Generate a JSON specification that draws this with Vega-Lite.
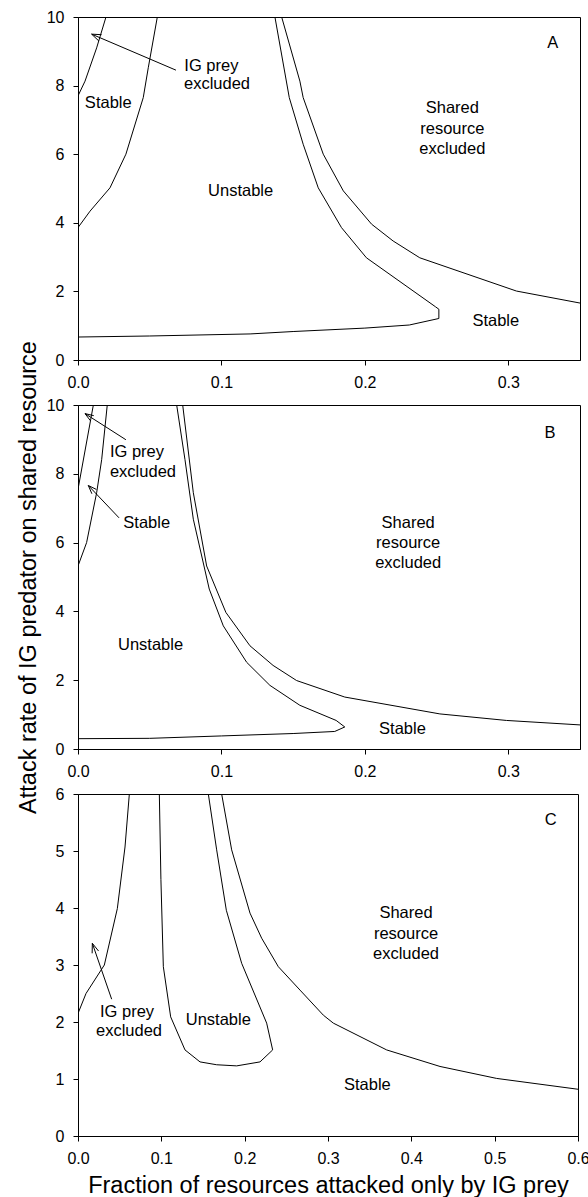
{
  "$schema": "https://vega.github.io/schema/vega-lite/v6.json",
  "padding": {"left": 15, "top": 8, "right": 6, "bottom": 2},
  "background": "white",
  "config": {
    "font": "Liberation Sans",
    "view": {"stroke": "black", "strokeWidth": 1},
    "axis": {
      "domainColor": "black", "tickColor": "black", "labelColor": "black", "titleColor": "black",
      "labelFont": "Liberation Sans", "titleFont": "Liberation Sans", "labelFontSize": 16,
      "titleFontSize": 23.5, "titleFontWeight": "normal", "grid": false, "tickSize": 5,
      "labelPadding": 9, "labelFlush": false, "labelOverlap": false, "domainWidth": 1, "tickWidth": 1
    }
  },
  "datasets": {
    "curves": [
      {"panel": "A", "curve": "A1", "i": 0, "x": 0, "y": 7.7},
      {"panel": "A", "curve": "A1", "i": 1, "x": 0.0049, "y": 8.13},
      {"panel": "A", "curve": "A1", "i": 2, "x": 0.013, "y": 9.1},
      {"panel": "A", "curve": "A1", "i": 3, "x": 0.0195, "y": 10},
      {"panel": "A", "curve": "A2", "i": 0, "x": 0, "y": 3.86},
      {"panel": "A", "curve": "A2", "i": 1, "x": 0.0084, "y": 4.34},
      {"panel": "A", "curve": "A2", "i": 2, "x": 0.0223, "y": 5.02},
      {"panel": "A", "curve": "A2", "i": 3, "x": 0.0334, "y": 6.0},
      {"panel": "A", "curve": "A2", "i": 4, "x": 0.0455, "y": 7.65},
      {"panel": "A", "curve": "A2", "i": 5, "x": 0.049, "y": 8.52},
      {"panel": "A", "curve": "A2", "i": 6, "x": 0.0553, "y": 10},
      {"panel": "A", "curve": "A3", "i": 0, "x": 0.1373, "y": 10},
      {"panel": "A", "curve": "A3", "i": 1, "x": 0.1473, "y": 7.65},
      {"panel": "A", "curve": "A3", "i": 2, "x": 0.157, "y": 6.29},
      {"panel": "A", "curve": "A3", "i": 3, "x": 0.1675, "y": 5.02},
      {"panel": "A", "curve": "A3", "i": 4, "x": 0.1837, "y": 3.86},
      {"panel": "A", "curve": "A3", "i": 5, "x": 0.2011, "y": 2.98},
      {"panel": "A", "curve": "A3", "i": 6, "x": 0.2493, "y": 1.55},
      {"panel": "A", "curve": "A3", "i": 7, "x": 0.2516, "y": 1.48},
      {"panel": "A", "curve": "A3", "i": 8, "x": 0.2516, "y": 1.21},
      {"panel": "A", "curve": "A3", "i": 9, "x": 0.231, "y": 1.02},
      {"panel": "A", "curve": "A3", "i": 10, "x": 0.2, "y": 0.93},
      {"panel": "A", "curve": "A3", "i": 11, "x": 0.15, "y": 0.83},
      {"panel": "A", "curve": "A3", "i": 12, "x": 0.12, "y": 0.76},
      {"panel": "A", "curve": "A3", "i": 13, "x": 0.05, "y": 0.7},
      {"panel": "A", "curve": "A3", "i": 14, "x": 0, "y": 0.67},
      {"panel": "A", "curve": "A4", "i": 0, "x": 0.142, "y": 10},
      {"panel": "A", "curve": "A4", "i": 1, "x": 0.1547, "y": 8.13},
      {"panel": "A", "curve": "A4", "i": 2, "x": 0.157, "y": 7.65},
      {"panel": "A", "curve": "A4", "i": 3, "x": 0.171, "y": 6.0},
      {"panel": "A", "curve": "A4", "i": 4, "x": 0.185, "y": 4.93},
      {"panel": "A", "curve": "A4", "i": 5, "x": 0.2047, "y": 3.96},
      {"panel": "A", "curve": "A4", "i": 6, "x": 0.2197, "y": 3.47},
      {"panel": "A", "curve": "A4", "i": 7, "x": 0.2383, "y": 2.98},
      {"panel": "A", "curve": "A4", "i": 8, "x": 0.3057, "y": 2.01},
      {"panel": "A", "curve": "A4", "i": 9, "x": 0.35, "y": 1.66},
      {"panel": "A", "curve": "Aarrow", "i": 0, "x": 0.0683, "y": 8.45},
      {"panel": "A", "curve": "Aarrow", "i": 1, "x": 0.0095, "y": 9.5},
      {"panel": "A", "curve": "Ahead", "i": 0, "x": 0.01456, "y": 9.3},
      {"panel": "A", "curve": "Ahead", "i": 1, "x": 0.0095, "y": 9.5},
      {"panel": "A", "curve": "Ahead", "i": 2, "x": 0.01645, "y": 9.484},

      {"panel": "B", "curve": "B1", "i": 0, "x": 0, "y": 7.55},
      {"panel": "B", "curve": "B1", "i": 1, "x": 0.0107, "y": 10},
      {"panel": "B", "curve": "B2", "i": 0, "x": 0, "y": 5.32},
      {"panel": "B", "curve": "B2", "i": 1, "x": 0.006, "y": 6.0},
      {"panel": "B", "curve": "B2", "i": 2, "x": 0.013, "y": 7.45},
      {"panel": "B", "curve": "B2", "i": 3, "x": 0.0165, "y": 8.41},
      {"panel": "B", "curve": "B2", "i": 4, "x": 0.0204, "y": 10},
      {"panel": "B", "curve": "B3", "i": 0, "x": 0.0688, "y": 10},
      {"panel": "B", "curve": "B3", "i": 1, "x": 0.0746, "y": 8.41},
      {"panel": "B", "curve": "B3", "i": 2, "x": 0.0804, "y": 6.68},
      {"panel": "B", "curve": "B3", "i": 3, "x": 0.0915, "y": 4.65},
      {"panel": "B", "curve": "B3", "i": 4, "x": 0.1013, "y": 3.58},
      {"panel": "B", "curve": "B3", "i": 5, "x": 0.1176, "y": 2.52},
      {"panel": "B", "curve": "B3", "i": 6, "x": 0.1338, "y": 1.85},
      {"panel": "B", "curve": "B3", "i": 7, "x": 0.1547, "y": 1.27},
      {"panel": "B", "curve": "B3", "i": 8, "x": 0.18, "y": 0.83},
      {"panel": "B", "curve": "B3", "i": 9, "x": 0.186, "y": 0.64},
      {"panel": "B", "curve": "B3", "i": 10, "x": 0.179, "y": 0.51},
      {"panel": "B", "curve": "B3", "i": 11, "x": 0.15, "y": 0.45},
      {"panel": "B", "curve": "B3", "i": 12, "x": 0.1, "y": 0.38},
      {"panel": "B", "curve": "B3", "i": 13, "x": 0.05, "y": 0.31},
      {"panel": "B", "curve": "B3", "i": 14, "x": 0, "y": 0.3},
      {"panel": "B", "curve": "B4", "i": 0, "x": 0.073, "y": 10},
      {"panel": "B", "curve": "B4", "i": 1, "x": 0.0804, "y": 7.45},
      {"panel": "B", "curve": "B4", "i": 2, "x": 0.0897, "y": 5.32},
      {"panel": "B", "curve": "B4", "i": 3, "x": 0.1031, "y": 3.97},
      {"panel": "B", "curve": "B4", "i": 4, "x": 0.1199, "y": 3.0},
      {"panel": "B", "curve": "B4", "i": 5, "x": 0.136, "y": 2.43},
      {"panel": "B", "curve": "B4", "i": 6, "x": 0.1524, "y": 1.99},
      {"panel": "B", "curve": "B4", "i": 7, "x": 0.186, "y": 1.51},
      {"panel": "B", "curve": "B4", "i": 8, "x": 0.2523, "y": 1.02},
      {"panel": "B", "curve": "B4", "i": 9, "x": 0.2987, "y": 0.83},
      {"panel": "B", "curve": "B4", "i": 10, "x": 0.35, "y": 0.7},
      {"panel": "B", "curve": "Barrow1", "i": 0, "x": 0.0334, "y": 8.99},
      {"panel": "B", "curve": "Barrow1", "i": 1, "x": 0.0049, "y": 9.75},
      {"panel": "B", "curve": "Bhead1", "i": 0, "x": 0.00871, "y": 9.54},
      {"panel": "B", "curve": "Bhead1", "i": 1, "x": 0.0049, "y": 9.75},
      {"panel": "B", "curve": "Bhead1", "i": 2, "x": 0.011, "y": 9.69},
      {"panel": "B", "curve": "Barrow2", "i": 0, "x": 0.0286, "y": 6.72},
      {"panel": "B", "curve": "Barrow2", "i": 1, "x": 0.0072, "y": 7.66},
      {"panel": "B", "curve": "Bhead2", "i": 0, "x": 0.00969, "y": 7.42},
      {"panel": "B", "curve": "Bhead2", "i": 1, "x": 0.0072, "y": 7.66},
      {"panel": "B", "curve": "Bhead2", "i": 2, "x": 0.01282, "y": 7.545},

      {"panel": "C", "curve": "C1", "i": 0, "x": 0, "y": 2.15},
      {"panel": "C", "curve": "C1", "i": 1, "x": 0.0096, "y": 2.5},
      {"panel": "C", "curve": "C1", "i": 2, "x": 0.0316, "y": 3.0},
      {"panel": "C", "curve": "C1", "i": 3, "x": 0.0472, "y": 3.99},
      {"panel": "C", "curve": "C1", "i": 4, "x": 0.0564, "y": 5.07},
      {"panel": "C", "curve": "C1", "i": 5, "x": 0.0616, "y": 6.0},
      {"panel": "C", "curve": "C2", "i": 0, "x": 0.0976, "y": 6.0},
      {"panel": "C", "curve": "C2", "i": 1, "x": 0.0995, "y": 4.5},
      {"panel": "C", "curve": "C2", "i": 2, "x": 0.1024, "y": 2.97},
      {"panel": "C", "curve": "C2", "i": 3, "x": 0.1112, "y": 2.09},
      {"panel": "C", "curve": "C2", "i": 4, "x": 0.1284, "y": 1.51},
      {"panel": "C", "curve": "C2", "i": 5, "x": 0.1464, "y": 1.3},
      {"panel": "C", "curve": "C2", "i": 6, "x": 0.1664, "y": 1.25},
      {"panel": "C", "curve": "C2", "i": 7, "x": 0.1904, "y": 1.23},
      {"panel": "C", "curve": "C2", "i": 8, "x": 0.2184, "y": 1.3},
      {"panel": "C", "curve": "C2", "i": 9, "x": 0.2336, "y": 1.51},
      {"panel": "C", "curve": "C2", "i": 10, "x": 0.2264, "y": 1.98},
      {"panel": "C", "curve": "C2", "i": 11, "x": 0.1964, "y": 3.03},
      {"panel": "C", "curve": "C2", "i": 12, "x": 0.178, "y": 3.96},
      {"panel": "C", "curve": "C2", "i": 13, "x": 0.1664, "y": 5.02},
      {"panel": "C", "curve": "C2", "i": 14, "x": 0.1564, "y": 6.0},
      {"panel": "C", "curve": "C3", "i": 0, "x": 0.1724, "y": 6.0},
      {"panel": "C", "curve": "C3", "i": 1, "x": 0.1844, "y": 5.02},
      {"panel": "C", "curve": "C3", "i": 2, "x": 0.2064, "y": 3.91},
      {"panel": "C", "curve": "C3", "i": 3, "x": 0.2204, "y": 3.47},
      {"panel": "C", "curve": "C3", "i": 4, "x": 0.2404, "y": 2.97},
      {"panel": "C", "curve": "C3", "i": 5, "x": 0.2664, "y": 2.56},
      {"panel": "C", "curve": "C3", "i": 6, "x": 0.2944, "y": 2.12},
      {"panel": "C", "curve": "C3", "i": 7, "x": 0.3064, "y": 1.98},
      {"panel": "C", "curve": "C3", "i": 8, "x": 0.3704, "y": 1.51},
      {"panel": "C", "curve": "C3", "i": 9, "x": 0.4344, "y": 1.22},
      {"panel": "C", "curve": "C3", "i": 10, "x": 0.5024, "y": 1.01},
      {"panel": "C", "curve": "C3", "i": 11, "x": 0.6, "y": 0.82},
      {"panel": "C", "curve": "Carrow", "i": 0, "x": 0.0404, "y": 2.4},
      {"panel": "C", "curve": "Carrow", "i": 1, "x": 0.0172, "y": 3.38},
      {"panel": "C", "curve": "Chead", "i": 0, "x": 0.01698, "y": 3.205},
      {"panel": "C", "curve": "Chead", "i": 1, "x": 0.0172, "y": 3.38},
      {"panel": "C", "curve": "Chead", "i": 2, "x": 0.0247, "y": 3.245}
    ],
    "labels": [
      {"panel": "A", "text": "IG prey", "x": 0.093, "y": 8.57},
      {"panel": "A", "text": "excluded", "x": 0.0969, "y": 8.05},
      {"panel": "A", "text": "Stable", "x": 0.0211, "y": 7.5},
      {"panel": "A", "text": "Unstable", "x": 0.1134, "y": 4.93},
      {"panel": "A", "text": "Shared", "x": 0.261, "y": 7.36},
      {"panel": "A", "text": "resource", "x": 0.261, "y": 6.73},
      {"panel": "A", "text": "excluded", "x": 0.261, "y": 6.14},
      {"panel": "A", "text": "Stable", "x": 0.2913, "y": 1.14},
      {"panel": "A", "text": "A", "x": 0.331, "y": 9.25},
      {"panel": "B", "text": "IG prey", "x": 0.0411, "y": 8.63},
      {"panel": "B", "text": "excluded", "x": 0.0453, "y": 8.04},
      {"panel": "B", "text": "Stable", "x": 0.0479, "y": 6.58},
      {"panel": "B", "text": "Unstable", "x": 0.0506, "y": 3.03},
      {"panel": "B", "text": "Shared", "x": 0.2302, "y": 6.58},
      {"panel": "B", "text": "resource", "x": 0.2302, "y": 5.98},
      {"panel": "B", "text": "excluded", "x": 0.2302, "y": 5.4},
      {"panel": "B", "text": "Stable", "x": 0.2262, "y": 0.59},
      {"panel": "B", "text": "B", "x": 0.329, "y": 9.19},
      {"panel": "C", "text": "IG prey", "x": 0.0588, "y": 2.18},
      {"panel": "C", "text": "excluded", "x": 0.0612, "y": 1.85},
      {"panel": "C", "text": "Unstable", "x": 0.1684, "y": 2.04},
      {"panel": "C", "text": "Shared", "x": 0.3936, "y": 3.91},
      {"panel": "C", "text": "resource", "x": 0.3936, "y": 3.54},
      {"panel": "C", "text": "excluded", "x": 0.3936, "y": 3.19},
      {"panel": "C", "text": "Stable", "x": 0.3472, "y": 0.89},
      {"panel": "C", "text": "C", "x": 0.5672, "y": 5.54}
    ]
  },
  "vconcat": [
    {
      "width": 502, "height": 343,
      "layer": [
        {
          "data": {"name": "curves"},
          "transform": [{"filter": "datum.panel === 'A'"}],
          "mark": {"type": "line", "color": "black", "strokeWidth": 1, "clip": true},
          "encoding": {
            "x": {"field": "x", "type": "quantitative", "scale": {"domain": [0, 0.35], "nice": false}, "axis": {"values": [0, 0.1, 0.2, 0.3], "format": ".1f", "title": null}},
            "y": {"field": "y", "type": "quantitative", "scale": {"domain": [0, 10], "nice": false}, "axis": {"values": [0, 2, 4, 6, 8, 10], "format": "d", "title": null}},
            "detail": {"field": "curve"},
            "order": {"field": "i"}
          }
        },
        {
          "data": {"name": "labels"},
          "transform": [{"filter": "datum.panel === 'A'"}],
          "mark": {"type": "text", "font": "Liberation Sans", "fontSize": 16.5, "color": "black", "baseline": "middle", "align": "center"},
          "encoding": {
            "x": {"field": "x", "type": "quantitative"},
            "y": {"field": "y", "type": "quantitative"},
            "text": {"field": "text"}
          }
        }
      ]
    },
    {
      "width": 502, "height": 344,
      "layer": [
        {
          "data": {"name": "curves"},
          "transform": [{"filter": "datum.panel === 'B'"}],
          "mark": {"type": "line", "color": "black", "strokeWidth": 1, "clip": true},
          "encoding": {
            "x": {"field": "x", "type": "quantitative", "scale": {"domain": [0, 0.35], "nice": false}, "axis": {"values": [0, 0.1, 0.2, 0.3], "format": ".1f", "title": null}},
            "y": {"field": "y", "type": "quantitative", "scale": {"domain": [0, 10], "nice": false}, "axis": {"values": [0, 2, 4, 6, 8, 10], "format": "d", "title": "Attack rate of IG predator on shared resource", "titlePadding": 6}},
            "detail": {"field": "curve"},
            "order": {"field": "i"}
          }
        },
        {
          "data": {"name": "labels"},
          "transform": [{"filter": "datum.panel === 'B'"}],
          "mark": {"type": "text", "font": "Liberation Sans", "fontSize": 16.5, "color": "black", "baseline": "middle", "align": "center"},
          "encoding": {
            "x": {"field": "x", "type": "quantitative"},
            "y": {"field": "y", "type": "quantitative"},
            "text": {"field": "text"}
          }
        }
      ]
    },
    {
      "width": 500, "height": 342,
      "layer": [
        {
          "data": {"name": "curves"},
          "transform": [{"filter": "datum.panel === 'C'"}],
          "mark": {"type": "line", "color": "black", "strokeWidth": 1, "clip": true},
          "encoding": {
            "x": {"field": "x", "type": "quantitative", "scale": {"domain": [0, 0.6], "nice": false}, "axis": {"values": [0, 0.1, 0.2, 0.3, 0.4, 0.5, 0.6], "format": ".1f", "title": "Fraction of resources attacked only by IG prey", "titlePadding": 7}},
            "y": {"field": "y", "type": "quantitative", "scale": {"domain": [0, 6], "nice": false}, "axis": {"values": [0, 1, 2, 3, 4, 5, 6], "format": "d", "title": null}},
            "detail": {"field": "curve"},
            "order": {"field": "i"}
          }
        },
        {
          "data": {"name": "labels"},
          "transform": [{"filter": "datum.panel === 'C'"}],
          "mark": {"type": "text", "font": "Liberation Sans", "fontSize": 16.5, "color": "black", "baseline": "middle", "align": "center"},
          "encoding": {
            "x": {"field": "x", "type": "quantitative"},
            "y": {"field": "y", "type": "quantitative"},
            "text": {"field": "text"}
          }
        }
      ]
    }
  ],
  "spacing": 45,
  "bounds": "flush"
}
